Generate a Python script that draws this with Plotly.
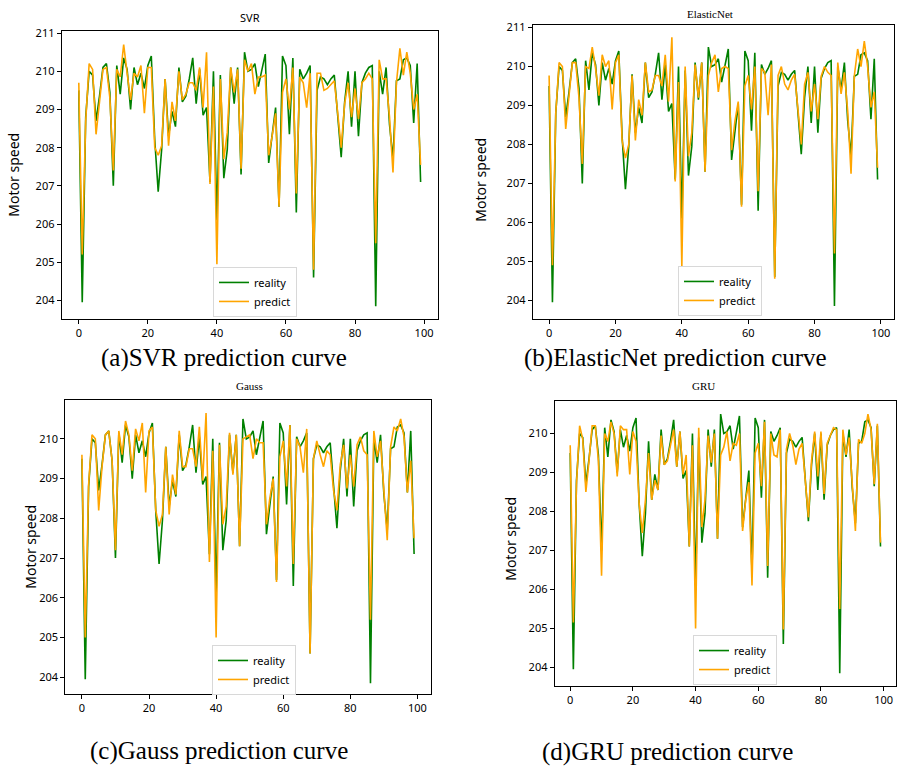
import plotly.graph_objects as go

W, H = 899, 769

index = list(range(100))

reality = [209.5, 203.95, 208.8, 210.0, 209.9, 208.7, 209.35, 210.1, 210.2, 209.45,
           207.0, 210.15, 209.4, 210.35, 210.05, 209.0, 210.1, 209.65, 209.95, 209.55,
           210.15, 210.4, 208.2, 206.85, 207.95, 209.8, 208.3, 208.95, 208.55, 210.1,
           209.2, 209.35, 209.8, 210.35, 209.15, 210.05, 208.85, 209.05, 207.1, 210.0,
           206.1, 209.9, 207.2, 207.95, 210.1, 209.15, 210.1, 207.3, 210.5, 210.0,
           210.05, 210.2, 209.6, 210.0, 210.45, 207.6, 208.3, 209.05, 206.45, 210.4,
           210.15, 208.35, 210.35, 206.3, 210.05, 209.8, 209.95, 210.15, 204.6, 209.5,
           209.85, 209.8, 209.65, 209.8, 209.9, 208.75, 207.75, 209.2, 210.0, 208.55,
           210.0, 208.3, 209.7, 209.95, 210.1, 210.15, 203.85, 210.0, 209.4, 210.1,
           208.6, 207.7, 209.75, 209.8, 210.3, 210.35, 210.15, 208.65, 210.2, 207.1]

pred_svr = [209.7, 205.2, 208.7, 210.2, 210.05, 208.35, 209.2, 210.05, 210.1, 209.3,
            207.4, 210.05, 209.85, 210.7, 209.95, 209.25, 209.95, 209.85, 210.15, 208.9,
            210.1, 210.1, 208.0, 207.8, 208.05, 209.8, 208.05, 209.2, 208.7, 210.0,
            209.25, 209.4, 209.7, 209.7, 209.5, 210.1, 209.05, 210.5, 207.05, 209.6,
            204.95, 209.8, 207.7, 208.4, 210.1, 209.45, 210.05, 207.45, 210.3, 210.0,
            210.2, 209.4, 209.85, 209.85, 209.9, 207.8, 208.3, 208.9, 206.45, 209.45,
            209.8, 209.0, 210.1, 206.8, 209.85, 209.7, 209.05, 209.95, 204.8, 209.95,
            209.95, 209.5, 209.55, 209.65, 209.75, 208.9, 208.0, 209.15, 209.7, 208.8,
            209.55, 208.75, 209.7, 209.8, 209.95, 209.8, 205.5, 210.3, 209.8, 209.8,
            208.8, 207.35, 209.7, 210.6, 209.9, 210.5, 209.95, 209.0, 209.4, 207.55]

pred_elastic = [209.77, 204.9, 208.8, 210.1, 210.0, 208.4, 209.25, 210.1, 210.1, 209.2,
                207.5, 210.0, 209.95, 210.5, 209.95, 209.25, 210.3, 210.0, 210.15, 208.9,
                210.1, 210.3, 208.1, 207.65, 208.0, 209.77, 208.1, 209.15, 208.75, 210.1,
                209.35, 209.4, 209.77, 209.77, 209.5, 210.3, 209.1, 210.75, 207.05, 209.6,
                204.85, 210.0, 207.7, 208.3, 210.05, 209.2, 210.1, 207.3, 209.77, 210.1,
                210.3, 209.35, 209.95, 210.0, 209.95, 207.85, 208.6, 209.1, 206.4, 209.5,
                209.77, 208.9, 210.0, 206.8, 209.95, 209.85, 208.75, 210.05, 204.55, 209.77,
                210.0, 209.55, 209.4, 209.65, 209.8, 208.9, 208.0, 209.55, 209.85, 208.85,
                209.55, 208.65, 209.75, 210.0, 209.85, 209.77, 205.2, 210.1, 209.3, 209.85,
                208.85, 207.25, 209.77, 210.45, 210.0, 210.65, 210.0, 208.95, 209.35, 207.4]

pred_gauss = [209.6, 205.0, 208.85, 210.1, 210.0, 208.2, 209.3, 210.1, 210.2, 209.45,
              207.2, 210.2, 209.6, 210.45, 210.1, 209.2, 210.25, 209.95, 210.4, 208.65,
              210.2, 210.3, 208.2, 207.8, 208.1, 209.8, 208.1, 209.1, 208.6, 210.2,
              209.3, 209.3, 209.75, 209.75, 209.3, 210.3, 208.95, 210.65, 206.9, 209.7,
              205.0, 209.85, 207.85, 208.3, 210.15, 209.1, 210.1, 207.3, 210.0, 210.05,
              210.1, 209.5, 210.0, 209.9, 209.9, 207.85, 208.5, 209.0, 206.4, 209.55,
              209.95, 208.8, 210.35, 206.85, 210.0, 209.8, 209.15, 210.25, 204.6, 209.5,
              209.95, 209.6, 209.3, 209.7, 209.6, 208.7, 208.2, 209.35, 209.85, 208.75,
              209.6, 208.8, 209.85, 210.05, 209.7, 209.6, 205.45, 210.2, 209.55, 209.95,
              208.6, 207.45, 209.8, 210.3, 210.2, 210.5, 210.05, 208.65, 209.45, 207.5]

pred_gru = [209.7, 205.15, 208.7, 210.2, 209.85, 208.5, 209.3, 210.2, 210.2, 209.3,
            206.35, 210.0, 209.8, 210.3, 210.0, 208.9, 210.2, 210.1, 210.1, 208.95,
            210.05, 209.8, 208.2, 207.45, 208.3, 209.5, 208.3, 208.8, 208.55, 209.95,
            209.2, 209.3, 209.7, 210.1, 209.15, 210.05, 208.95, 209.45, 207.1, 209.7,
            205.0, 210.15, 207.6, 208.3, 209.95, 209.25, 210.0, 207.3, 209.45, 209.65,
            210.05, 209.3, 209.75, 209.7, 210.0, 207.5, 208.3, 208.75, 206.1, 209.5,
            209.75, 208.65, 210.3, 206.6, 210.0, 209.45, 209.4, 210.1, 204.97, 209.6,
            210.0, 209.7, 209.2, 209.6, 209.75, 208.7, 207.85, 209.3, 210.05, 208.9,
            210.05, 208.45, 209.75, 209.95, 210.15, 210.1, 205.5, 210.1, 209.45, 209.9,
            208.55, 207.5, 209.85, 209.75, 210.0, 210.5, 210.1, 208.7, 210.25, 207.2]

titles = ["SVR", "ElasticNet", "Gauss", "GRU"]
captions = ["(a)SVR prediction curve", "(b)ElasticNet prediction curve",
            "(c)Gauss prediction curve", "(d)GRU prediction curve"]
preds = [pred_svr, pred_elastic, pred_gauss, pred_gru]
y_ticks = [[204, 205, 206, 207, 208, 209, 210, 211],
           [204, 205, 206, 207, 208, 209, 210, 211],
           [204, 205, 206, 207, 208, 209, 210],
           [204, 205, 206, 207, 208, 209, 210]]
x_ticks = [0, 20, 40, 60, 80, 100]

# panel geometry in pixels: (left, right, top, bottom)
boxes = [(61.7, 437.7, 25, 315),
         (532.7, 894, 19, 315),
         (65.3, 430.7, 397, 693),
         (554.7, 896, 398.3, 685)]
y_ranges = [[203.525, 211.06], [203.53, 211.07], [203.59, 210.98], [203.53, 210.83]]
legend_pos = [(213, 263), (678, 262), (212, 644), (693, 634)]
title_pos = [(250, 12, "Noto Sans", 11), (710, 8, "Liberation Serif", 11),
             (250, 383, "Liberation Serif", 11), (703, 383, "Liberation Serif", 11)]
ylabel_pos = [(14, 170), (481, 175), (31, 545), (511, 537)]
caption_pos = [(224, 355), (675, 355), (219, 751), (667, 752)]

GREEN = "#008000"
ORANGE = "#FFA500"

fig = go.Figure()
layout = dict(width=W, height=H, margin=dict(l=0, r=0, t=0, b=0),
              paper_bgcolor="white", plot_bgcolor="white", showlegend=True)
annotations = []

def px(x):
    return x / W

def py(y):
    return 1 - y / H

for k in range(4):
    n = "" if k == 0 else str(k + 1)
    xa, ya = "x" + n, "y" + n
    lg = "legend" + n
    fig.add_trace(go.Scatter(x=index, y=reality, mode="lines", name="reality",
                             line=dict(color=GREEN, width=1.6), xaxis=xa, yaxis=ya,
                             legend=lg))
    fig.add_trace(go.Scatter(x=index, y=preds[k], mode="lines", name="predict",
                             line=dict(color=ORANGE, width=1.6), xaxis=xa, yaxis=ya,
                             legend=lg))
    l, r, t, b = boxes[k]
    common = dict(showgrid=False, zeroline=False, showline=True, linecolor="black",
                  linewidth=1, mirror=True, ticks="outside", ticklen=4, tickcolor="black",
                  tickfont=dict(family="Noto Sans", size=11, color="black"))
    layout["xaxis" + n] = dict(domain=[px(l), px(r)], range=[-4.95, 103.95],
                               tickvals=x_ticks, anchor=ya, **common)
    layout["yaxis" + n] = dict(domain=[py(b), py(t)], range=y_ranges[k],
                               tickvals=y_ticks[k], anchor=xa, **common)
    lx, ly = legend_pos[k]
    layout[lg] = dict(x=px(lx), y=py(ly), xanchor="left", yanchor="top",
                      bgcolor="white", bordercolor="#d8d8d8", borderwidth=1,
                      font=dict(family="Noto Sans", size=11, color="black"),
                      tracegroupgap=0, itemwidth=30)
    tx, ty, tf, ts = title_pos[k]
    annotations.append(dict(x=px(tx), y=py(ty), xref="paper", yref="paper",
                            xanchor="center", yanchor="middle",
                            text=titles[k], showarrow=False,
                            font=dict(family=tf, size=ts, color="black")))
    yx, yy = ylabel_pos[k]
    annotations.append(dict(x=px(yx), y=py(yy), xref="paper", yref="paper",
                            xanchor="center", yanchor="middle",
                            text="Motor speed", showarrow=False, textangle=-90,
                            font=dict(family="Noto Sans", size=14, color="black")))
    cx, cy = caption_pos[k]
    annotations.append(dict(x=px(cx), y=py(cy), xref="paper", yref="paper",
                            xanchor="center", yanchor="middle",
                            text=captions[k], showarrow=False,
                            font=dict(family="Liberation Serif", size=25, color="black")))

layout["annotations"] = annotations
fig.update_layout(**layout)
fig.write_html("out.html", config={"displayModeBar": False},
               post_script="document.body.style.margin='0';document.body.style.padding='0';")
